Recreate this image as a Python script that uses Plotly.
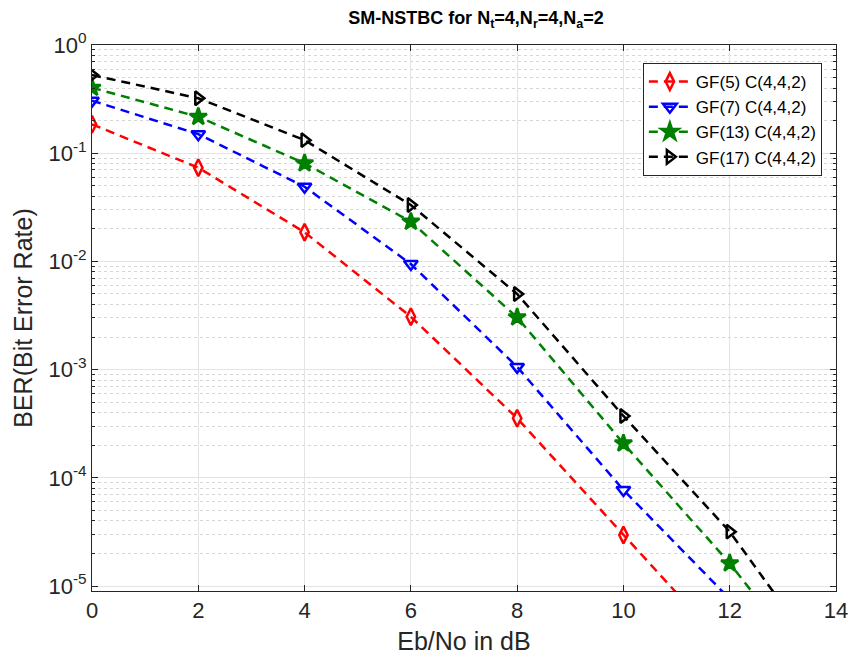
import plotly.graph_objects as go

# Eb/No points (dB) and BER
ebno = [0, 2, 4, 6, 8, 10, 12, 14]
ber_gf5 = [0.185, 0.0735, 0.0186, 0.00308, 3.55e-4, 2.96e-5, 2.5e-6]
ber_gf7 = [0.306, 0.150, 0.049, 0.00946, 1.06e-3, 7.73e-5, 7.6e-6]
ber_gf13 = [0.403, 0.217, 0.0807, 0.0233, 3.04e-3, 2.08e-4, 1.62e-5, 9e-7]
ber_gf17 = [0.528, 0.322, 0.132, 0.0332, 5.0e-3, 3.73e-4, 3.18e-5, 1.4e-6]

series_names = ["GF(5) C(4,4,2)", "GF(7) C(4,4,2)", "GF(13) C(4,4,2)", "GF(17) C(4,4,2)"]
y_ticks = [1, 1e-1, 1e-2, 1e-3, 1e-4, 1e-5]
y_ticktext = ["10<sup>0</sup>", "10<sup>-1</sup>", "10<sup>-2</sup>",
              "10<sup>-3</sup>", "10<sup>-4</sup>", "10<sup>-5</sup>"]
x_ticks = [0, 2, 4, 6, 8, 10, 12, 14]

styles = [
    dict(color="#ff0000", symbol="diamond-tall-open", size=12),
    dict(color="#0000ff", symbol="triangle-down-open", size=12),
    dict(color="#008000", symbol="star", size=13),
    dict(color="#000000", symbol="triangle-right-open", size=12),
]

fig = go.Figure()
for name, ber, st in zip(series_names, [ber_gf5, ber_gf7, ber_gf13, ber_gf17], styles):
    fig.add_trace(go.Scatter(
        x=ebno[:len(ber)],
        y=ber,
        name=name,
        mode="lines+markers",
        line=dict(color=st["color"], width=2.5, dash="9px,6px"),
        marker=dict(symbol=st["symbol"], size=st["size"], color=st["color"],
                    line=dict(color=st["color"], width=2.5)),
    ))

# minor grid positions for the log axis (2..9 in each decade)
minor_vals = [k * 10.0 ** e for e in range(-6, 0) for k in range(2, 10)]

axis_color = "#262626"
font_family = "Liberation Sans, Arial, sans-serif"

fig.update_layout(
    width=850,
    height=666,
    paper_bgcolor="white",
    plot_bgcolor="white",
    margin=dict(l=92, r=14, t=45, b=75),
    font=dict(family=font_family, color=axis_color),
    title=dict(
        text="<b>SM-NSTBC for N<sub>t</sub>=4,N<sub>r</sub>=4,N<sub>a</sub>=2</b>",
        x=0.56, xanchor="center", y=0.973, yanchor="middle",
        font=dict(size=18, color="#000000"),
    ),
    legend=dict(
        x=0.981, y=0.967, xanchor="right", yanchor="top",
        bgcolor="white", bordercolor=axis_color, borderwidth=1,
        font=dict(size=17, color="#000000"),
        itemwidth=42,
    ),
    xaxis=dict(
        range=[0, 14],
        tickvals=x_ticks,
        automargin=False,
        showgrid=True, gridcolor="#e3e3e3", gridwidth=1,
        zeroline=False,
        showline=True, linecolor=axis_color, linewidth=1, mirror="ticks",
        ticks="inside", ticklen=6, tickcolor=axis_color,
        tickfont=dict(size=22),
        title=dict(text="Eb/No in dB", font=dict(size=25), standoff=10),
    ),
    yaxis=dict(
        type="log",
        range=[-5.046, 0],
        tickvals=y_ticks,
        ticktext=y_ticktext,
        automargin=False,
        showgrid=True, gridcolor="#e3e3e3", gridwidth=1,
        zeroline=False,
        showline=True, linecolor=axis_color, linewidth=1, mirror="ticks",
        ticks="inside", ticklen=6, tickcolor=axis_color,
        tickfont=dict(size=22),
        minor=dict(tickvals=minor_vals, ticks="inside", ticklen=3,
                   tickcolor=axis_color, showgrid=True,
                   gridcolor="#d6d6d6", griddash="dot", gridwidth=1),
        title=dict(text="BER(Bit Error Rate)", font=dict(size=25), standoff=8),
    ),
)

# drop the page's default body margin so the figure sits at the window corner
fig.write_html("out.html", config={"displayModeBar": False},
               post_script="document.body.style.margin='0';")
